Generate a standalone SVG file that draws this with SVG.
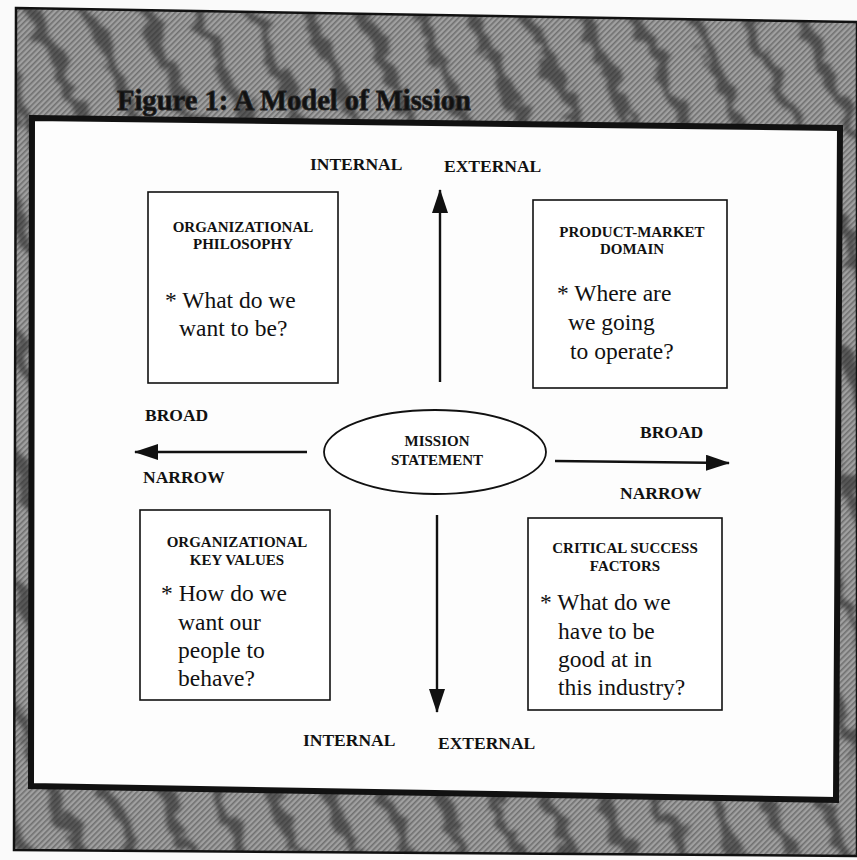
<svg xmlns="http://www.w3.org/2000/svg" width="857" height="860" viewBox="0 0 857 860">
<defs>
<style>
.hd{font-family:"Liberation Serif","Times New Roman",serif;font-weight:bold;font-size:15px;fill:#111;text-anchor:middle}
.bd{font-family:"Liberation Serif","Times New Roman",serif;font-size:23.5px;fill:#111}
.lb{font-family:"Liberation Serif","Times New Roman",serif;font-weight:bold;font-size:17.5px;fill:#111}
.box{fill:#fff;stroke:#111;stroke-width:1.6}
.ln{stroke:#111;stroke-width:2.4;fill:none}
</style>
<pattern id="hatch" width="4" height="4" patternUnits="userSpaceOnUse" patternTransform="rotate(45)">
<rect width="4" height="4" fill="#a0a0a0"/>
<rect width="1.6" height="4" fill="#707070"/>
</pattern>
<pattern id="streak" width="50" height="120" patternUnits="userSpaceOnUse" patternTransform="rotate(-24)">
<path d="M19 0 C30 20 9 40 20 60 C31 80 11 100 19 120 L30 120 C25 100 44 80 33 60 C22 40 42 20 30 0 Z" fill="#2a2a2a"/>
</pattern>
<filter id="rough" x="-5%" y="-5%" width="110%" height="110%">
<feTurbulence type="fractalNoise" baseFrequency="0.06" numOctaves="3" seed="5" result="n"/>
<feDisplacementMap in="SourceGraphic" in2="n" scale="22" xChannelSelector="R" yChannelSelector="G" result="d"/>
<feGaussianBlur in="d" stdDeviation="2"/>
</filter>
<clipPath id="fc"><polygon points="16,8 857,22 857,856 14,850"/></clipPath>
<marker id="ahb" viewBox="0 0 24 16" refX="23" refY="8" markerWidth="24" markerHeight="16" markerUnits="userSpaceOnUse" orient="auto">
<path d="M0 0 L24 8 L0 16 Z" fill="#111"/>
</marker>
</defs>
<rect width="857" height="860" fill="#fafafa"/>
<g id="frame">
<polygon points="16,8 857,22 857,856 14,850" fill="url(#hatch)"/>
<g clip-path="url(#fc)"><rect x="0" y="0" width="857" height="860" fill="url(#streak)" opacity="0.62" filter="url(#rough)"/></g>
<polygon points="16,8 857,22 857,856 14,850" fill="none" stroke="#111" stroke-width="2.5"/>
<polygon points="32,118 840,128 836,800 31,786" fill="#fdfdfd" stroke="#111" stroke-width="6"/>
</g>
<g id="title">
<text x="117" y="110" font-family="'Liberation Serif','Times New Roman',serif" font-weight="bold" font-size="30" fill="#111" stroke="#222" stroke-width="0.8" textLength="354" lengthAdjust="spacingAndGlyphs">Figure 1:  A Model of Mission</text>
</g>
<g id="connectors">
<line class="ln" x1="440" y1="382" x2="440" y2="190" marker-end="url(#ahb)"/>
<line class="ln" x1="437" y1="515" x2="437" y2="712" marker-end="url(#ahb)"/>
<line class="ln" x1="307" y1="452" x2="135" y2="452" marker-end="url(#ahb)"/>
<line class="ln" x1="555" y1="461" x2="729" y2="463" marker-end="url(#ahb)"/>
</g>
<g id="axis-labels">
<text class="lb" x="310" y="170">INTERNAL</text>
<text class="lb" x="444" y="172">EXTERNAL</text>
<text class="lb" x="303" y="746">INTERNAL</text>
<text class="lb" x="438" y="749">EXTERNAL</text>
<text class="lb" x="145" y="421">BROAD</text>
<text class="lb" x="143" y="483">NARROW</text>
<text class="lb" x="640" y="438">BROAD</text>
<text class="lb" x="620" y="499">NARROW</text>
</g>
<g id="philosophy">
<rect class="box" x="148" y="192" width="190" height="191"/>
<text class="hd" x="243" y="232">ORGANIZATIONAL</text>
<text class="hd" x="243" y="249">PHILOSOPHY</text>
<text class="bd" x="165" y="308">* What do we</text>
<text class="bd" x="179" y="336">want to be?</text>
</g>
<g id="domain">
<rect class="box" x="533" y="200" width="194" height="188"/>
<text class="hd" x="632" y="237">PRODUCT-MARKET</text>
<text class="hd" x="632" y="254">DOMAIN</text>
<text class="bd" x="557" y="301">* Where are</text>
<text class="bd" x="568" y="330">we going</text>
<text class="bd" x="570" y="359">to operate?</text>
</g>
<g id="mission">
<ellipse cx="435" cy="452" rx="111" ry="42" fill="#fff" stroke="#111" stroke-width="1.8"/>
<text class="hd" x="437" y="446">MISSION</text>
<text class="hd" x="437" y="465">STATEMENT</text>
</g>
<g id="keyvalues">
<rect class="box" x="140" y="510" width="190" height="190"/>
<text class="hd" x="237" y="547">ORGANIZATIONAL</text>
<text class="hd" x="237" y="565">KEY VALUES</text>
<text class="bd" x="161" y="601">* How do we</text>
<text class="bd" x="178" y="630">want our</text>
<text class="bd" x="178" y="658">people to</text>
<text class="bd" x="178" y="686">behave?</text>
</g>
<g id="factors">
<rect class="box" x="528" y="518" width="194" height="192"/>
<text class="hd" x="625" y="553">CRITICAL SUCCESS</text>
<text class="hd" x="625" y="571">FACTORS</text>
<text class="bd" x="540" y="610">* What do we</text>
<text class="bd" x="558" y="639">have to be</text>
<text class="bd" x="558" y="667">good at in</text>
<text class="bd" x="558" y="695">this industry?</text>
</g>
</svg>
